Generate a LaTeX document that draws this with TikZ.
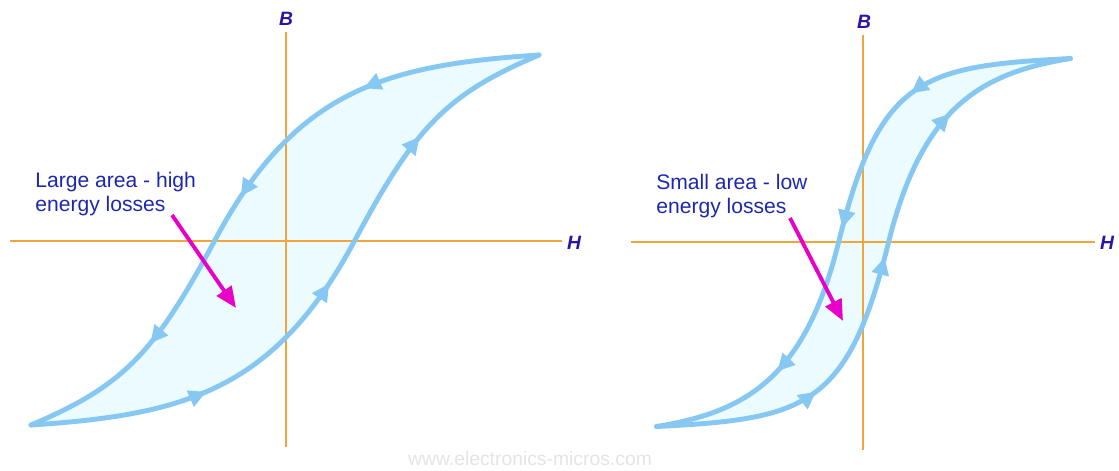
\documentclass[tikz,border=0pt]{standalone}
\usepackage{fontspec}
\setmainfont{Liberation Sans}
\usepackage{tikz}
\usetikzlibrary{arrows.meta,decorations.markings}
\usepackage{xcolor}
\definecolor{loopblue}{RGB}{135,200,242}
\definecolor{loopfill}{RGB}{236,252,254}
\definecolor{axisorange}{RGB}{242,165,60}
\definecolor{noteblue}{RGB}{30,40,175}
\definecolor{axisblue}{RGB}{45,20,165}
\definecolor{pointermagenta}{RGB}{232,0,200}
\definecolor{markgray}{RGB}{228,228,228}
\tikzset{
    axis/.style={axisorange, line width=1.2pt},
    axislabel/.style={text=axisblue, inner sep=0pt, font=\fontsize{11}{11}\selectfont\bfseries\itshape},
    loopbody/.style={fill=loopfill},
    branch/.style={loopblue, line width=2.8pt, line join=round, line cap=round, postaction={decorate},
        decoration={markings,
            mark=at position 0.27 with {\arrow{Triangle[length=10pt,width=9.5pt]}},
            mark=at position 0.52 with {\arrow{Triangle[length=10pt,width=9.5pt]}},
            mark=at position 0.78 with {\arrow{Triangle[length=10pt,width=9.5pt]}}}},
    note/.style={text=noteblue, align=left, inner sep=0pt, font=\fontsize{12}{13.6}\selectfont},
    pointer/.style={pointermagenta, line width=2.2pt, -{Triangle[length=12pt,width=10pt]}},
    watermark/.style={text=markgray, font=\fontsize{11}{11}\selectfont},
}

\begin{document}
\begin{tikzpicture}[x=0.02cm, y=-0.02cm]
    \useasboundingbox (0,0) rectangle (1119,470);
    % wide loop
    \begin{scope}[shift={(285,240)}]
        \fill[loopbody] (254,-185) .. controls (100,-175) and (10,-150) .. (-70,0) .. controls (-131,114) and (-162,146) .. (-254,185)
            .. controls (-100,175) and (-10,150) .. (70,0) .. controls (131,-114) and (162,-146) .. (254,-185) -- cycle;
    \end{scope}
    \coordinate (Ltop) at (286,32);
    \coordinate (Lbot) at (286,447);
    \coordinate (Lleft) at (10,241);
    \coordinate (Lright) at (562,241);
    \draw[axis] (Ltop) -- (Lbot);
    \draw[axis] (Lleft) -- (Lright);
    \node[axislabel] (LB) at (286,19) {B};
    \node[axislabel] (LH) at (574,243) {H};
    \begin{scope}[shift={(285,240)}]
        \draw[branch] (254,-185) .. controls (100,-175) and (10,-150) .. (-70,0) .. controls (-131,114) and (-162,146) .. (-254,185);
        \draw[branch] (-254,185) .. controls (-100,175) and (-10,150) .. (70,0) .. controls (131,-114) and (162,-146) .. (254,-185);
    \end{scope}
    \node[note, anchor=north west] (Lnote) at (35,172) {Large area - high\\energy losses};
    \coordinate (Ltail) at (172,215);
    \coordinate (Lhead) at (236,308);
    \draw[pointer] (Ltail) -- (Lhead);
    % narrow loop
    \begin{scope}[shift={(863.5,242.5)}]
        \fill[loopbody] (207,-184) .. controls (57,-176.5) and (15.8,-165) .. (-25,0) .. controls (-58.6,135.8) and (-118,169.6) .. (-207,184)
            .. controls (-57,176.5) and (-15.8,165) .. (25,0) .. controls (58.6,-135.8) and (118,-169.6) .. (207,-184) -- cycle;
    \end{scope}
    \coordinate (Rtop) at (863,35);
    \coordinate (Rbot) at (863,450);
    \coordinate (Rleft) at (631,242);
    \coordinate (Rright) at (1095,242);
    \draw[axis] (Rtop) -- (Rbot);
    \draw[axis] (Rleft) -- (Rright);
    \node[axislabel] (RB) at (864,22) {B};
    \node[axislabel] (RH) at (1107,243) {H};
    \begin{scope}[shift={(863.5,242.5)}]
        \draw[branch] (207,-184) .. controls (57,-176.5) and (15.8,-165) .. (-25,0) .. controls (-58.6,135.8) and (-118,169.6) .. (-207,184);
        \draw[branch] (-207,184) .. controls (-57,176.5) and (-15.8,165) .. (25,0) .. controls (58.6,-135.8) and (118,-169.6) .. (207,-184);
    \end{scope}
    \node[note, anchor=north west] (Rnote) at (656,174) {Small area - low\\energy losses};
    \coordinate (Rtail) at (790,218);
    \coordinate (Rhead) at (843,321);
    \draw[pointer] (Rtail) -- (Rhead);
    \node[watermark] (site) at (530,459) {www.electronics-micros.com};
\end{tikzpicture}
\end{document}
